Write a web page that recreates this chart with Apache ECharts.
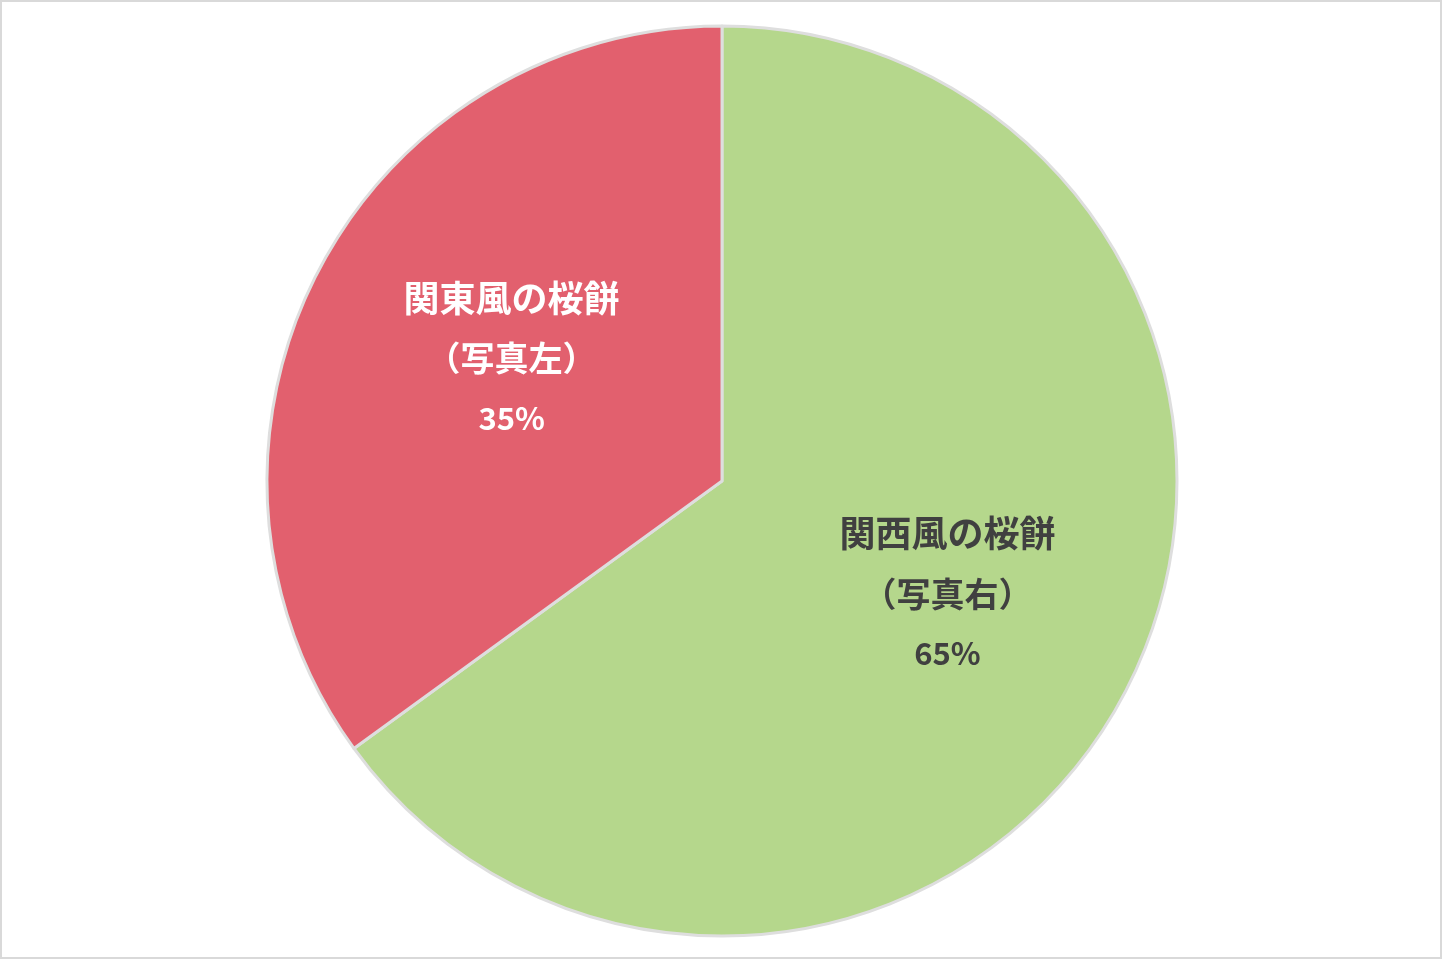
<!DOCTYPE html>
<html><head><meta charset="utf-8">
<script src="https://cdn.jsdelivr.net/npm/echarts@6/dist/echarts.min.js"></script>
<style>html,body{margin:0;padding:0;background:#fff}#c{width:1443px;height:960px}</style>
</head><body><div id="c"></div>
<script>
const categories = ['関西風の桜餅\n（写真右）', '関東風の桜餅\n（写真左）'];
const values = [65, 35];
const colors = ['#B5D78C', '#E2606E'];
const labelColors = ['#404040', '#ffffff'];
const labelOffsets = [[20, 8], [-5, -18]];

const chart = echarts.init(document.getElementById('c'));
const font = {fontFamily: 'Noto Sans CJK JP', fontWeight: 'bold', lineHeight: 60};
chart.setOption({
  animation: false,
  backgroundColor: '#ffffff',
  graphic: [{
    type: 'rect', shape: {x: 1, y: 1, width: 1440, height: 957},
    style: {fill: 'none', stroke: '#d9d9d9', lineWidth: 2}, silent: true, z: 100
  }],
  series: [{
    type: 'pie',
    center: [722, 481],
    radius: [0, 455],
    startAngle: 90,
    clockwise: true,
    percentPrecision: 0,
    itemStyle: {borderColor: '#dedede', borderWidth: 3},
    label: {
      show: true, position: 'inside',
      formatter: p => {
        const parts = p.name.split('\n');
        return '{a|' + parts[0] + '}\n{b|' + parts[1] + '}\n{c|' + p.percent + '%}';
      },
      rich: {
        a: Object.assign({fontSize: 36}, font),
        b: Object.assign({fontSize: 34}, font),
        c: Object.assign({fontSize: 31}, font)
      },
      ...font
    },
    labelLine: {show: false},
    data: categories.map((n, i) => ({
      name: n, value: values[i],
      itemStyle: {color: colors[i]},
      label: {color: labelColors[i], offset: labelOffsets[i]}
    }))
  }]
});
</script></body></html>
